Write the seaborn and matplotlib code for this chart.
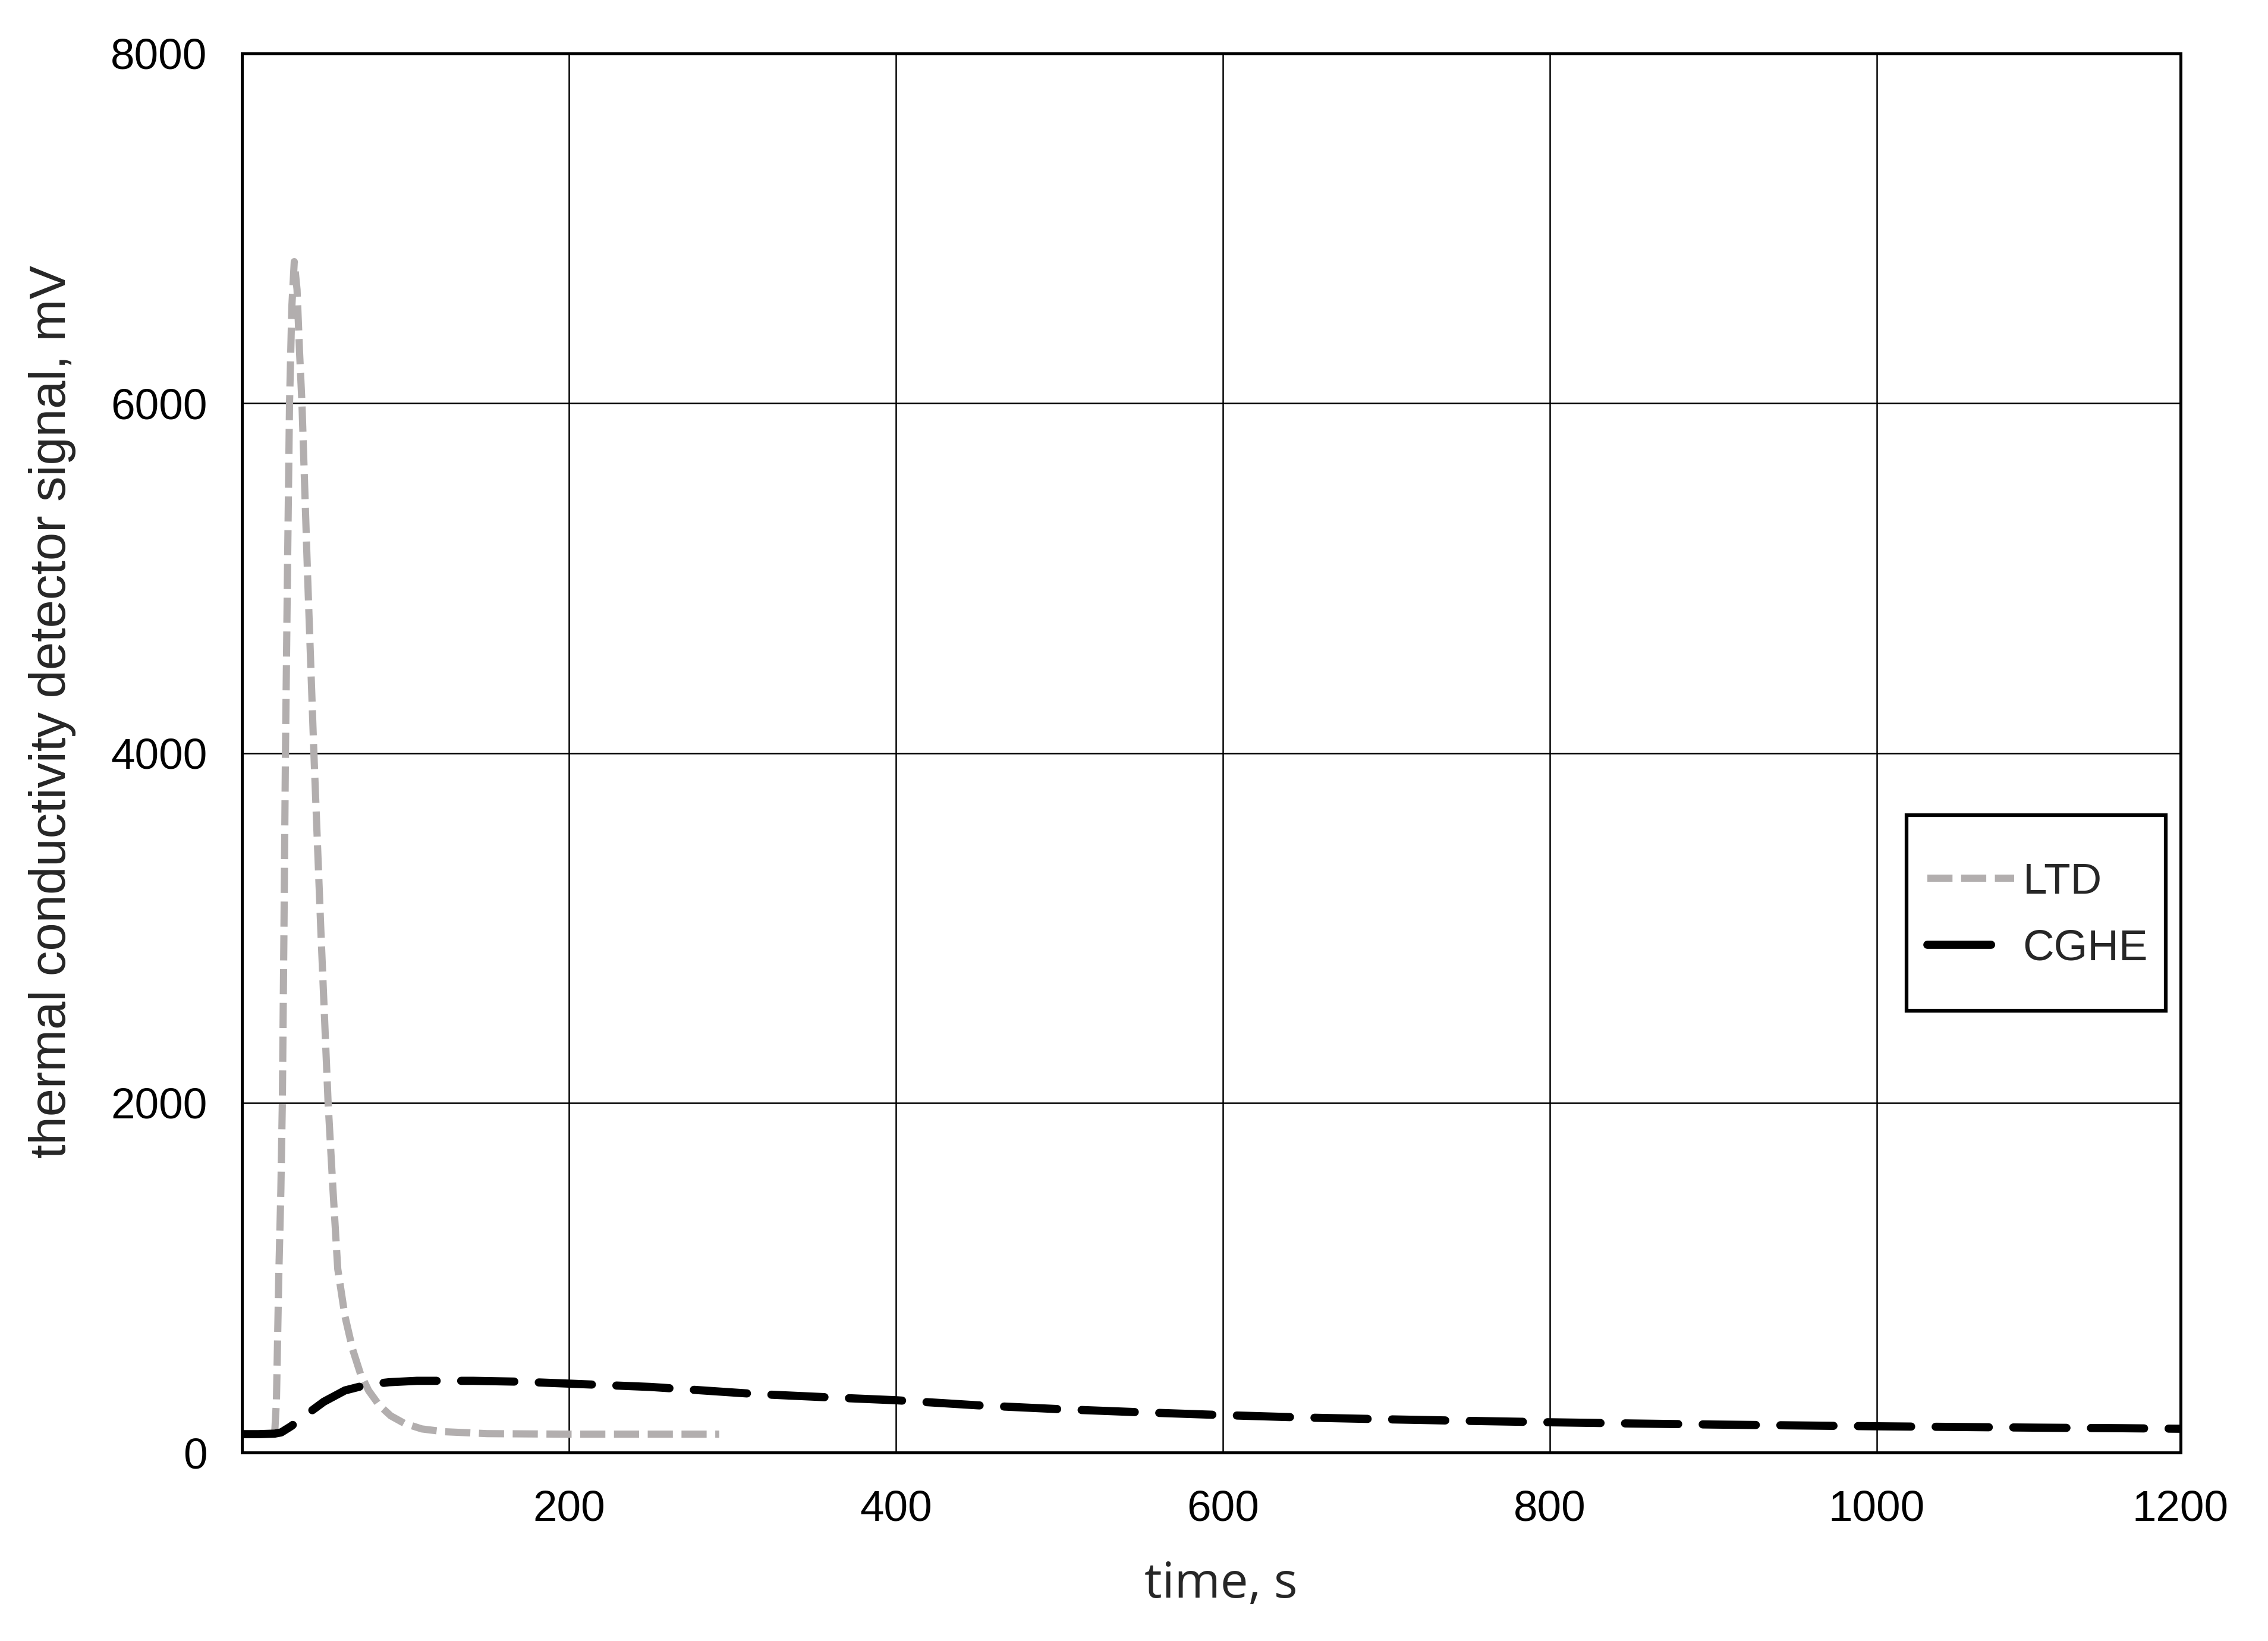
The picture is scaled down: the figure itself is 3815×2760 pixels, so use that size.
import pandas as pd
import matplotlib
matplotlib.use("Agg")
import matplotlib.pyplot as plt
from matplotlib.patches import Rectangle
import seaborn as sns

# LTD detector signal (mV) vs time (s)
ltd_time = [0, 10, 20, 21.1, 22.5, 23.8, 24.7, 25.7, 26.6, 27.8, 29.1, 30.5, 32.0,
            33.7, 35.2, 36.7, 40.2, 44.0, 48.2, 52.7, 55.7, 58.6, 63, 67.7, 72.5, 77.5, 84,
            91, 99.3, 110, 123.7, 150, 200, 250, 292]
ltd_signal = [105, 105, 105, 300, 1000, 1500, 2000, 3000, 4000, 5000, 6000, 6550, 6810,
              6650, 6300, 6000, 5000, 4000, 3000, 2000, 1500, 1050, 780, 590, 450, 354, 270,
              210, 167, 135, 119, 108, 105, 105, 105]

# CGHE detector signal (mV) vs time (s)
cghe_time = [0, 10, 20, 24, 30, 39, 50, 63, 76.8, 90, 107, 141.5, 170, 200, 250, 274,
             313.6, 360, 400, 450, 500, 550, 600, 650, 700, 750, 800, 850, 900, 950,
             1000, 1050, 1100, 1150, 1186]
cghe_signal = [105, 105, 108, 115, 150, 214, 290, 355, 388, 402, 410, 410, 405, 394, 375, 360,
               335, 315, 299, 270, 248, 230, 214, 200, 190, 181, 173, 166, 160, 155,
               150, 146, 142, 139, 136]

x_ticks = [200, 400, 600, 800, 1000, 1186]
x_labels = ["200", "400", "600", "800", "1000", "1200"]
y_ticks = [0, 2000, 4000, 6000, 8000]

ltd = pd.DataFrame({"time": ltd_time, "signal": ltd_signal})
cghe = pd.DataFrame({"time": cghe_time, "signal": cghe_signal})

sns.set_style("white")
plt.rcParams["font.family"] = ["Liberation Sans", "DejaVu Sans"]

fig = plt.figure(figsize=(3815 / 300, 2760 / 300), dpi=300)
ax = fig.add_axes([407 / 3815, 1 - 2443 / 2760, (3668 - 407) / 3815, (2443 - 90) / 2760])

sns.lineplot(data=ltd, x="time", y="signal", ax=ax, color="#b2aeae",
             linewidth=2.9, label="LTD")
sns.lineplot(data=cghe, x="time", y="signal", ax=ax, color="black",
             linewidth=3.3, label="CGHE")
ax.lines[0].set_dashes((3.5, 1.2))
ax.lines[1].set_dashes((6.5, 3.0))
ax.lines[1].set_dash_capstyle("round")

ax.set_xlim(0, 1186)
ax.set_ylim(0, 8000)
ax.set_xticks(x_ticks)
ax.set_xticklabels(x_labels)
ax.set_yticks(y_ticks)
ax.tick_params(length=0, labelsize=17.5, colors="black")
ax.tick_params(axis="x", pad=15)
ax.tick_params(axis="y", pad=14)

ax.grid(True, color="black", linewidth=0.6)
for s in ax.spines.values():
    s.set_visible(True)
    s.set_color("black")
    s.set_linewidth(1.2)

ax.set_xlabel("time, s", fontsize=20, family=["Open Sans", "DejaVu Sans"])
ax.xaxis.set_label_coords(0.505, -0.077)
ax.set_ylabel("thermal conductivity detector signal, mV", fontsize=20.4)
ax.yaxis.set_label_coords(-0.0856, 0.5296)

# legend box (Excel style: lots of padding top/bottom)
ax.add_patch(Rectangle((0.8586, 0.3158), 0.9923 - 0.8586, 0.4556 - 0.3158,
                       transform=ax.transAxes, facecolor="white", edgecolor="black",
                       linewidth=1.5, zorder=5, clip_on=False))
leg = ax.legend(loc="center left", bbox_to_anchor=(0.8694, 0.3836), fontsize=17.5,
                frameon=False, handlelength=2.0, handletextpad=0.2, borderpad=0,
                labelspacing=0.62, borderaxespad=0)
leg.set_zorder(6)
leg.get_lines()[1].set_dashes((7.8, 10))
leg.get_lines()[1].set_solid_capstyle("round")

fig.savefig("out.png", dpi=300)
